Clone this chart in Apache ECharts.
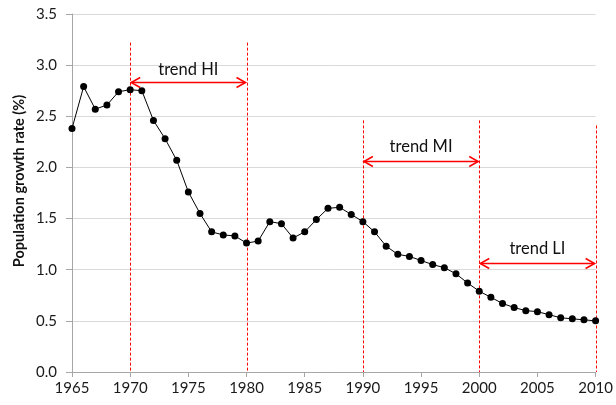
<!DOCTYPE html>
<html><head><meta charset="utf-8">
<script src="https://cdn.jsdelivr.net/npm/echarts@6/dist/echarts.min.js"></script>
<style>html,body{margin:0;padding:0;background:#fff}#c{width:616px;height:405px}</style>
</head><body><div id="c"></div>
<script>
var years = [1965,1966,1967,1968,1969,1970,1971,1972,1973,1974,1975,1976,1977,1978,1979,1980,1981,1982,1983,1984,1985,1986,1987,1988,1989,1990,1991,1992,1993,1994,1995,1996,1997,1998,1999,2000,2001,2002,2003,2004,2005,2006,2007,2008,2009,2010];
var growth = [2.38,2.79,2.57,2.61,2.74,2.76,2.75,2.46,2.28,2.07,1.76,1.55,1.37,1.34,1.33,1.26,1.28,1.47,1.45,1.31,1.37,1.49,1.60,1.61,1.54,1.47,1.37,1.23,1.15,1.13,1.09,1.05,1.02,0.96,0.87,0.79,0.73,0.67,0.63,0.60,0.59,0.56,0.53,0.52,0.51,0.50];
var xTicks = [1965,1970,1975,1980,1985,1990,1995,2000,2005,2010];
var yTicks = [0,0.5,1,1.5,2,2.5,3,3.5];
var yTitle = 'Population growth rate (%)';
// vertical dashed lines: [year, top value]
var vlineYears = [1970,1980,1990,2000,2010];
var vlineTops = [3.22,3.22,2.46,2.46,2.41];
// trend arrows
var trendNames = ['trend HI','trend MI','trend LI'];
var trendStart = [1970,1990,2000];
var trendEnd = [1980,2000,2010];
var trendArrowY = [2.84,2.065,1.07];
var trendTextY = [2.96,2.20,1.21];

var FONT = 'Lato, "Open Sans", sans-serif';
var points = years.map(function(y,i){return [y,growth[i]];});
var vdata = vlineYears.map(function(y,i){return [y,vlineTops[i]];});
var tdata = trendNames.map(function(n,i){return [trendStart[i],trendEnd[i],trendArrowY[i],trendTextY[i],n];});

var chart = echarts.init(document.getElementById('c'), null, {renderer:'canvas'});
chart.setOption({
  animation:false,
  grid:{left:72,right:20,top:14,bottom:33,containLabel:false},
  graphic:[{type:'text',x:19,y:181,rotation:Math.PI/2,
    style:{text:yTitle,fontSize:14.5,fontWeight:'bold',fill:'#111',fontFamily:FONT,align:'center',verticalAlign:'middle'}}],
  xAxis:{type:'value',min:1965,max:2010,interval:5,
    axisLine:{show:true,lineStyle:{color:'#a6a6a6',width:1}},
    axisTick:{show:true,length:5,lineStyle:{color:'#a6a6a6'}},
    axisLabel:{color:'#1a1a1a',fontSize:15,fontFamily:FONT,margin:9,
      formatter:function(v){return xTicks.indexOf(v)>=0?String(v):'';}},
    splitLine:{show:false}},
  yAxis:{type:'value',min:0,max:3.5,interval:0.5,
    axisLine:{show:true,lineStyle:{color:'#a6a6a6',width:1}},
    axisTick:{show:true,length:6,lineStyle:{color:'#a6a6a6'}},
    axisLabel:{color:'#1a1a1a',fontSize:15,fontFamily:FONT,margin:15,
      formatter:function(v){return yTicks.indexOf(v)>=0?v.toFixed(1):'';}},
    splitLine:{show:true,lineStyle:{color:'#d9d9d9',width:1}}},
  series:[
    {type:'custom',z:1,data:vdata,renderItem:function(params,api){
      var top=api.coord([api.value(0),api.value(1)]);
      var bot=api.coord([api.value(0),0]);
      return {type:'line',shape:{x1:Math.round(top[0])+0.5,y1:top[1],x2:Math.round(bot[0])+0.5,y2:bot[1]},
        style:{stroke:'#ff0000',lineWidth:1,lineDash:[3,2]}};
    }},
    {type:'custom',z:3,data:tdata,renderItem:function(params,api){
      var a=api.coord([api.value(0),api.value(2)]);
      var b=api.coord([api.value(1),api.value(2)]);
      var t=api.coord([(api.value(0)+api.value(1))/2,api.value(3)]);
      var y=Math.round(a[1])+0.5;
      var st={stroke:'#ff0000',lineWidth:1.5,fill:null};
      var h=10,w=5;
      return {type:'group',children:[
        {type:'line',shape:{x1:a[0]+1,y1:y,x2:b[0]-1,y2:y},style:st},
        {type:'polyline',shape:{points:[[a[0]+h,y-w],[a[0]+1,y],[a[0]+h,y+w]]},style:st},
        {type:'polyline',shape:{points:[[b[0]-h,y-w],[b[0]-1,y],[b[0]-h,y+w]]},style:st},
        {type:'text',x:t[0],y:t[1],style:{text:api.value(4),fill:'#111',fontSize:16.5,fontFamily:FONT,align:'center',verticalAlign:'middle'}}
      ]};
    }},
    {type:'line',z:5,data:points,symbol:'circle',symbolSize:7,
      lineStyle:{color:'#000',width:1},itemStyle:{color:'#000'}}
  ]
});
</script></body></html>
